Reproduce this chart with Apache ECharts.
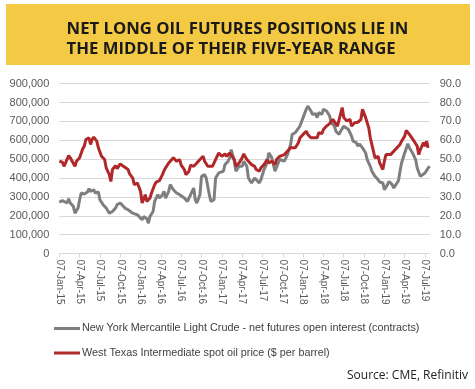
<!DOCTYPE html>
<html>
<head>
<meta charset="utf-8">
<script src="https://cdn.jsdelivr.net/npm/echarts@6/dist/echarts.min.js"></script>
<style>
html,body{margin:0;padding:0;background:#fff;}
#c{width:475px;height:389px;}
</style>
</head>
<body>
<div id="c"></div>
<script>
// x values are weeks since 07-Jan-15
const tickLabels = ['07-Jan-15','07-Apr-15','07-Jul-15','07-Oct-15','07-Jan-16','07-Apr-16','07-Jul-16','07-Oct-16','07-Jan-17','07-Apr-17','07-Jul-17','07-Oct-17','07-Jan-18','07-Apr-18','07-Jul-18','07-Oct-18','07-Jan-19','07-Apr-19','07-Jul-19'];
const weeksPerTick = 13;
const lastWeek = 237;

const seriesNames = [
  'New York Mercantile Light Crude - net futures open interest (contracts)',
  'West Texas Intermediate spot oil price ($ per barrel)'
];

const netPositions = [[0,273000],[2,280000],[3,276000],[5,268000],[6,290000],[7,268000],[9,250000],[10,214000],[12,241000],[13,285000],[14,321000],[16,315000],[18,326000],[19,344000],[20,329000],[22,338000],[23,321000],[25,326000],[26,285000],[28,259000],[30,241000],[31,232000],[32,214000],[34,223000],[36,241000],[37,259000],[39,268000],[40,259000],[42,241000],[44,232000],[45,228000],[47,214000],[50,205000],[51,202000],[53,179000],[54,196000],[56,184000],[57,161000],[58,196000],[60,223000],[61,276000],[63,312000],[64,294000],[66,312000],[67,329000],[68,294000],[70,329000],[71,365000],[73,338000],[75,321000],[77,312000],[78,303000],[80,294000],[82,276000],[83,268000],[85,329000],[86,347000],[87,285000],[88,268000],[90,312000],[91,409000],[93,418000],[94,400000],[96,312000],[97,276000],[99,285000],[100,400000],[102,427000],[103,432000],[105,436000],[106,471000],[108,489000],[109,507000],[110,551000],[112,489000],[113,436000],[115,462000],[117,462000],[118,489000],[120,462000],[121,400000],[123,374000],[125,400000],[126,409000],[128,374000],[129,391000],[131,445000],[133,480000],[134,533000],[136,507000],[138,436000],[139,445000],[141,498000],[142,489000],[144,490000],[146,524000],[148,578000],[149,631000],[151,640000],[152,648000],[154,675000],[155,684000],[156,720000],[158,764000],[159,781000],[161,755000],[162,737000],[164,741000],[165,720000],[166,746000],[168,737000],[169,764000],[171,755000],[173,728000],[174,693000],[176,675000],[177,648000],[179,631000],[180,648000],[182,675000],[183,684000],[185,657000],[187,622000],[188,595000],[190,587000],[191,569000],[192,581000],[194,560000],[196,533000],[197,498000],[199,462000],[200,436000],[202,409000],[204,391000],[205,379000],[207,374000],[208,338000],[210,365000],[211,382000],[213,365000],[214,347000],[215,356000],[217,386000],[218,436000],[219,480000],[221,533000],[223,581000],[224,560000],[226,533000],[228,498000],[229,453000],[231,409000],[232,418000],[234,427000],[236,453000],[237,462000]];

const wtiPrice = [[0,48.9],[2,48.4],[3,46.2],[4,48.0],[6,51.9],[7,50.7],[8,51.5],[10,46.2],[11,48.9],[13,50.7],[14,51.0],[15,55.5],[16,56.9],[17,60.4],[19,61.3],[20,57.8],[21,60.4],[22,61.7],[24,59.5],[25,56.0],[27,51.5],[29,49.8],[30,45.4],[32,41.8],[33,38.2],[34,44.5],[35,45.0],[36,46.6],[37,45.0],[39,47.5],[41,46.2],[42,47.1],[44,44.5],[45,42.2],[47,40.0],[48,36.5],[50,37.4],[52,32.9],[53,26.8],[55,31.2],[56,27.6],[58,29.4],[59,32.1],[61,36.5],[62,37.9],[64,38.6],[66,41.8],[67,43.9],[68,45.4],[70,48.0],[71,48.9],[73,50.7],[74,51.5],[75,48.9],[77,49.8],[78,46.8],[80,44.5],[81,41.8],[83,43.6],[84,46.8],[86,46.2],[88,48.0],[90,49.8],[92,51.5],[93,48.9],[95,46.2],[96,47.1],[98,46.2],[100,49.8],[102,53.3],[104,51.5],[106,52.8],[107,51.5],[109,53.3],[110,52.4],[112,49.8],[113,46.2],[115,48.0],[117,50.7],[118,52.8],[120,49.8],[121,48.9],[123,47.1],[125,46.2],[126,44.5],[128,43.6],[129,45.4],[131,47.1],[133,49.8],[134,48.0],[136,48.9],[138,47.1],[139,49.8],[141,51.5],[142,50.7],[144,52.4],[145,52.4],[148,56.0],[149,56.9],[151,56.0],[153,58.7],[154,61.3],[156,63.1],[158,64.8],[159,63.1],[161,61.3],[162,61.7],[165,61.3],[166,64.0],[168,63.5],[169,65.7],[171,67.5],[173,68.8],[175,71.1],[176,70.5],[178,67.5],[179,66.6],[181,77.3],[182,72.0],[184,70.2],[186,71.1],[187,67.5],[189,69.3],[191,69.5],[193,71.1],[194,76.4],[196,72.0],[198,66.6],[199,61.3],[201,54.2],[202,50.7],[204,51.5],[205,48.0],[207,44.5],[208,48.9],[209,52.4],[212,52.4],[213,53.3],[215,55.1],[216,56.0],[218,57.8],[219,59.5],[221,62.2],[222,65.2],[224,63.1],[225,63.1],[227,59.5],[229,56.9],[230,52.4],[231,55.1],[233,58.7],[234,56.9],[235,59.5],[236,56.0]];

const leftMax = 900000, leftStep = 100000;
const rightMax = 90, rightStep = 10;

const tickWeeks = tickLabels.map((_, i) => i * weeksPerTick);

const chart = echarts.init(document.getElementById('c'), null, {renderer: 'canvas'});
const axisFont = 'Liberation Sans';
chart.setOption({
  animation: false,
  backgroundColor: '#ffffff',
  graphic: [
    {type: 'rect', shape: {x: 6, y: 4, width: 464, height: 61}, style: {fill: '#F4C944'}, z: 0},
    {type: 'text', left: 'center', top: 19, style: {
      text: 'NET LONG OIL FUTURES POSITIONS LIE IN\nTHE MIDDLE OF THEIR FIVE-YEAR RANGE',
      font: 'bold 16.7px "Open Sans"', fill: '#1a1a1a', align: 'center', lineHeight: 20
    }, z: 1},
    {type: 'text', right: 7, top: 370, style: {
      text: 'Source: CME, Refinitiv', font: '12px "Open Sans"', fill: '#222222'
    }}
  ],
  grid: {left: 59.3, right: 45.3, top: 83.6, bottom: 135.4, containLabel: false, outerBoundsMode: 'none'},
  legend: {
    orient: 'vertical', left: 54, top: 323, padding: 0,
    itemWidth: 26, itemHeight: 3, itemGap: 13.5, icon: 'rect',
    textStyle: {fontFamily: axisFont, fontSize: 10.8, color: '#404040', padding: [0,0,0,-3]},
    data: seriesNames
  },
  xAxis: {
    type: 'value', min: 0, max: lastWeek,
    axisLine: {show: true, lineStyle: {color: '#d9d9d9', width: 1}},
    axisTick: {show: true, length: 4, lineStyle: {color: '#d9d9d9'}, customValues: tickWeeks},
    axisLabel: {
      customValues: tickWeeks, rotate: -90, margin: 6,
      fontFamily: axisFont, fontSize: 10, color: '#595959',
      formatter: v => tickLabels[Math.round(v / weeksPerTick)] || ''
    },
    splitLine: {show: false}
  },
  yAxis: [
    {
      type: 'value', min: 0, max: leftMax, interval: leftStep,
      axisLine: {show: false}, axisTick: {show: false},
      axisLabel: {margin: 10, fontFamily: axisFont, fontSize: 11, color: '#595959',
        formatter: v => v.toLocaleString('en-US')},
      splitLine: {show: true, lineStyle: {color: '#d9d9d9', width: 1}}
    },
    {
      type: 'value', min: 0, max: rightMax, interval: rightStep,
      axisLine: {show: false}, axisTick: {show: false},
      axisLabel: {margin: 10, fontFamily: axisFont, fontSize: 11, color: '#595959',
        formatter: v => v.toFixed(1)},
      splitLine: {show: false}
    }
  ],
  series: [
    {name: seriesNames[0], type: 'line', yAxisIndex: 0, data: netPositions, symbol: 'none',
      lineStyle: {color: '#7f7f7f', width: 3}, itemStyle: {color: '#7f7f7f'}},
    {name: seriesNames[1], type: 'line', yAxisIndex: 1, data: wtiPrice, symbol: 'none',
      lineStyle: {color: '#b0282a', width: 3}, itemStyle: {color: '#b0282a'}}
  ]
});
</script>
</body>
</html>
